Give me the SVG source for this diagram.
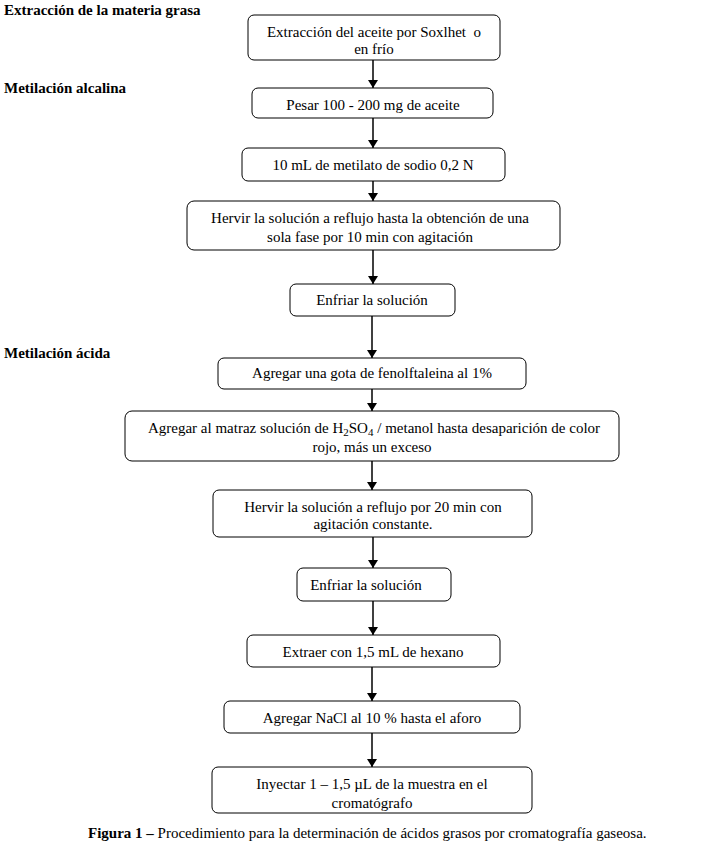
<svg xmlns="http://www.w3.org/2000/svg" width="722" height="849" viewBox="0 0 722 849">
<style>
.box{fill:#fff;stroke:#000;stroke-width:1}
.t{font-family:"Liberation Serif","Times New Roman",serif;font-size:15px;fill:#000;text-anchor:middle}
.h{font-family:"Liberation Serif","Times New Roman",serif;font-size:15px;font-weight:bold;fill:#000}
.c{stroke:#000;stroke-width:1.5;fill:none;marker-end:url(#ah)}
</style>
<defs>
<marker id="ah" markerWidth="8" markerHeight="10" refX="8" refY="5" orient="auto" markerUnits="userSpaceOnUse" viewBox="0 0 8 10">
<path d="M0,0 L8,5 L0,10 Z" fill="#000"/>
</marker>
</defs>
<rect width="722" height="849" fill="#fff"/>
<text class="h" x="4" y="15">Extracción de la materia grasa</text>
<text class="h" x="4" y="93">Metilación alcalina</text>
<text class="h" x="4" y="358">Metilación ácida</text>
<g id="connectors">
<line class="c" x1="373" y1="60" x2="373" y2="88"/>
<line class="c" x1="373" y1="118" x2="373" y2="148"/>
<line class="c" x1="373" y1="181" x2="373" y2="201"/>
<line class="c" x1="373" y1="250" x2="373" y2="284"/>
<line class="c" x1="372" y1="316" x2="372" y2="358"/>
<line class="c" x1="372" y1="389" x2="372" y2="411"/>
<line class="c" x1="372" y1="461" x2="372" y2="490"/>
<line class="c" x1="373" y1="537" x2="373" y2="568"/>
<line class="c" x1="373" y1="601" x2="373" y2="635"/>
<line class="c" x1="372" y1="667" x2="372" y2="701"/>
<line class="c" x1="372" y1="733" x2="372" y2="767"/>
</g>
<g id="n1"><rect class="box" x="248" y="15" width="252" height="45" rx="6"/>
<text class="t" x="374" y="37">Extracción del aceite por Soxlhet &#160;o</text>
<text class="t" x="374" y="54">en frío</text></g>
<g id="n2"><rect class="box" x="252" y="88" width="241" height="30" rx="6"/>
<text class="t" x="373" y="110">Pesar 100 - 200 mg de aceite</text></g>
<g id="n3"><rect class="box" x="242" y="148" width="263" height="33" rx="6"/>
<text class="t" x="373" y="170">10 mL de metilato de sodio 0,2 N</text></g>
<g id="n4"><rect class="box" x="187" y="201" width="373" height="49" rx="7"/>
<text class="t" x="370" y="223">Hervir la solución a reflujo hasta la obtención de una</text>
<text class="t" x="370" y="242">sola fase por 10 min con agitación</text></g>
<g id="n5"><rect class="box" x="290" y="284" width="165" height="32" rx="6"/>
<text class="t" x="372" y="305">Enfriar la solución</text></g>
<g id="n6"><rect class="box" x="218" y="358" width="308" height="31" rx="6"/>
<text class="t" x="372" y="378">Agregar una gota de fenolftaleina al 1%</text></g>
<g id="n7"><rect class="box" x="125" y="411" width="494" height="50" rx="7"/>
<text class="t" x="374" y="433">Agregar al matraz solución de H<tspan font-size="11" dy="3">2</tspan><tspan dy="-3">SO</tspan><tspan font-size="11" dy="3">4</tspan><tspan dy="-3"> / metanol hasta desaparición de color</tspan></text>
<text class="t" x="372" y="452">rojo, más un exceso</text></g>
<g id="n8"><rect class="box" x="213" y="490" width="319" height="47" rx="6"/>
<text class="t" x="373" y="512">Hervir la solución a reflujo por 20 min con</text>
<text class="t" x="373" y="529">agitación constante.</text></g>
<g id="n9"><rect class="box" x="297" y="568" width="154" height="33" rx="6"/>
<text class="t" x="366" y="590">Enfriar la solución</text></g>
<g id="n10"><rect class="box" x="247" y="635" width="253" height="32" rx="6"/>
<text class="t" x="373" y="657">Extraer con 1,5 mL de hexano</text></g>
<g id="n11"><rect class="box" x="224" y="701" width="296" height="32" rx="6"/>
<text class="t" x="372" y="723">Agregar NaCl al 10 % hasta el aforo</text></g>
<g id="n12"><rect class="box" x="212" y="767" width="320" height="46" rx="6"/>
<text class="t" x="372" y="789">Inyectar 1 – 1,5 µL de la muestra en el</text>
<text class="t" x="372" y="808">cromatógrafo</text></g>
<text x="88" y="838" font-family="Liberation Serif, Times New Roman, serif" font-size="15"><tspan font-weight="bold">Figura 1 –</tspan> Procedimiento para la determinación de ácidos grasos por cromatografía gaseosa.</text>
</svg>
